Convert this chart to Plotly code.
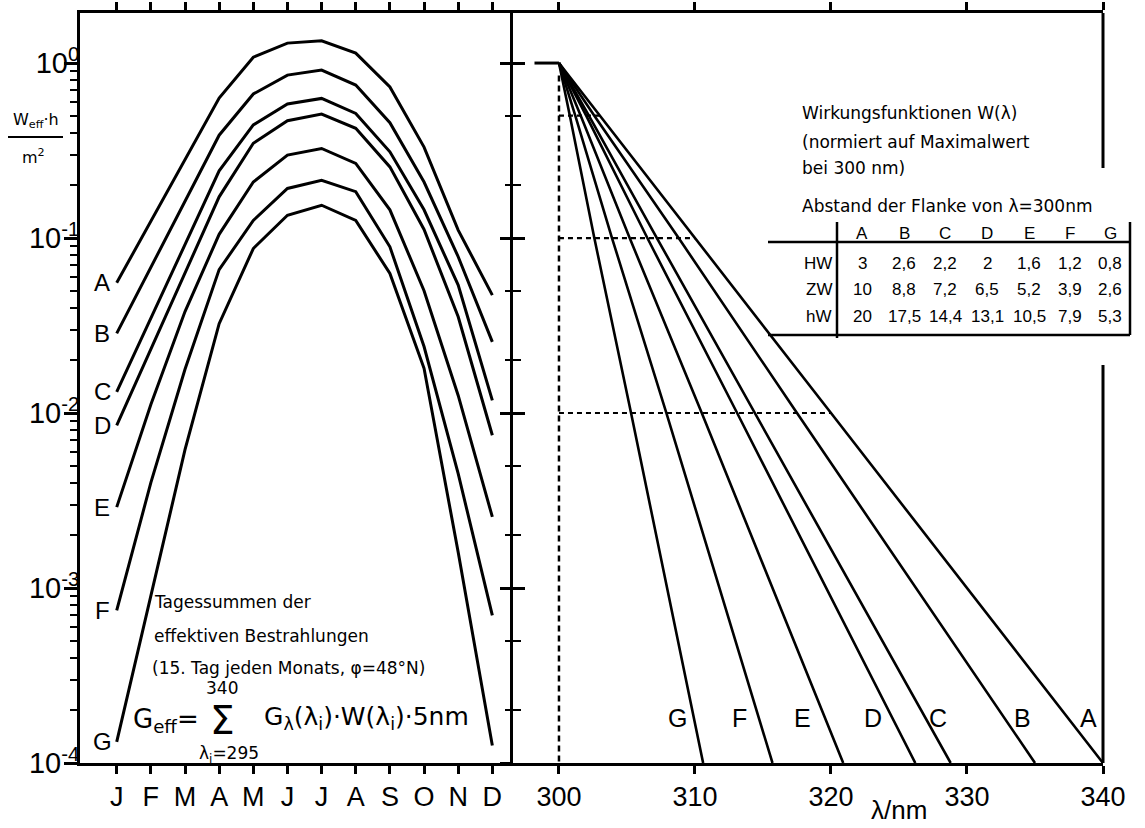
import math
import plotly.graph_objects as go

# ---------------- data ----------------
months = ["J", "F", "M", "A", "M", "J", "J", "A", "S", "O", "N", "D"]
month_pos = list(range(12))

curve_names = ["A", "B", "C", "D", "E", "F", "G"]

# daily effective irradiation (W_eff*h/m^2), 15th day of each month, 48°N
geff_A = [0.0555, 0.125, 0.281, 0.631, 1.08, 1.30, 1.34, 1.14, 0.73, 0.331, 0.111, 0.0472]
geff_B = [0.0285, 0.068, 0.162, 0.387, 0.665, 0.853, 0.912, 0.748, 0.456, 0.209, 0.0782, 0.0255]
geff_C = [0.0132, 0.0348, 0.0918, 0.242, 0.443, 0.583, 0.628, 0.515, 0.311, 0.145, 0.0538, 0.0118]
geff_D = [0.0085, 0.0232, 0.0632, 0.172, 0.348, 0.468, 0.511, 0.424, 0.255, 0.112, 0.0355, 0.00746]
geff_E = [0.0029, 0.0112, 0.038, 0.105, 0.209, 0.298, 0.325, 0.267, 0.145, 0.05, 0.0126, 0.00255]
geff_F = [0.000745, 0.004, 0.0178, 0.066, 0.126, 0.192, 0.214, 0.184, 0.0891, 0.024, 0.0045, 0.000698]
geff_G = [0.000132, 0.00091, 0.00617, 0.0324, 0.0871, 0.135, 0.154, 0.126, 0.0628, 0.018, 0.0016, 0.000126]
geff_curves = [geff_A, geff_B, geff_C, geff_D, geff_E, geff_F, geff_G]

# action spectra: distance of the flank from 300 nm (nm)
dist_HW = [3, 2.6, 2.2, 2, 1.6, 1.2, 0.8]          # half value
dist_ZW = [10, 8.8, 7.2, 6.5, 5.2, 3.9, 2.6]       # tenth value
dist_hW = [20, 17.5, 14.4, 13.1, 10.5, 7.9, 5.3]   # hundredth value
lam_end = [340, 335, 328.8, 326.2, 320.9, 315.7, 310.6]  # wavelength where W = 1e-4
w_levels = [1, 0.5, 0.1, 0.01, 1e-4]
plateau_start = 298.2
lam_ref = 300

wl_ticks = [300, 310, 320, 330, 340]
decades = [1e-4, 1e-3, 1e-2, 1e-1, 1]
decade_text = ["10<sup>-4</sup>", "10<sup>-3</sup>", "10<sup>-2</sup>", "10<sup>-1</sup>", "10<sup>0</sup>"]

# ---------------- geometry ----------------
W, H = 1145, 828
ML, MR, MT, MB = 80, 42, 13, 65
PW, PH = W - ML - MR, H - MT - MB
SPLIT_PX = 513
XSPLIT = (SPLIT_PX - ML) / PW
YRANGE = [-4, 0.286]


def paper(x, y):
    return (x - ML) / PW, (H - MB - y) / PH


TXT = "DejaVu Sans"
NUM = "Liberation Sans"
INK = "black"

fig = go.Figure()

# ---------------- left panel: annual curves ----------------
for name, vals in zip(curve_names, geff_curves):
    fig.add_trace(go.Scatter(x=month_pos, y=vals, mode="lines", xaxis="x", yaxis="y",
                             line=dict(color=INK, width=3), hoverinfo="skip"))
    fig.add_annotation(x=-0.43, y=math.log10(vals[0]), xref="x", yref="y", text=name,
                       showarrow=False, font=dict(family=NUM, size=24, color=INK),
                       xanchor="center", yanchor="middle")

# ---------------- right panel: action spectra ----------------
fig.add_trace(go.Scatter(x=[plateau_start, lam_ref], y=[1, 1], mode="lines", xaxis="x2", yaxis="y2",
                         line=dict(color=INK, width=3), hoverinfo="skip"))
for i, name in enumerate(curve_names):
    xs = [lam_ref, lam_ref + dist_HW[i], lam_ref + dist_ZW[i], lam_ref + dist_hW[i], lam_end[i]]
    fig.add_trace(go.Scatter(x=xs, y=w_levels, mode="lines", xaxis="x2", yaxis="y2",
                             line=dict(color=INK, width=2.6), hoverinfo="skip"))

# dashed guides for spectrum A
guide = dict(color=INK, width=2.5, dash="6px,4px")
fig.add_trace(go.Scatter(x=[lam_ref, lam_ref], y=[0.85, 1e-4], mode="lines", xaxis="x2", yaxis="y3",
                         line=guide, hoverinfo="skip"))
for d, lev in zip([dist_HW[0], dist_ZW[0], dist_hW[0]], w_levels[1:4]):
    fig.add_trace(go.Scatter(x=[lam_ref, lam_ref + d], y=[lev, lev], mode="lines", xaxis="x2", yaxis="y3",
                             line=dict(color=INK, width=2.2, dash="5px,4px"), hoverinfo="skip"))

label_x = [338.9, 334.1, 327.9, 323.1, 317.9, 313.3, 308.75]
for name, lx in zip(curve_names, label_x):
    fig.add_annotation(x=lx, y=-3.74, xref="x2", yref="y2", text=name, showarrow=False,
                       font=dict(family=NUM, size=25, color=INK), xanchor="center", yanchor="middle")

# ---------------- axes ----------------
minor_left = [m * 10 ** e for e in range(-4, 0) for m in range(2, 10)]
minor_right = [m * 10 ** e for e in range(-4, 0) for m in (2, 5)]

common_x = dict(showline=True, linewidth=3, linecolor=INK, mirror="ticks", ticks="outside",
                ticklen=8, tickwidth=2.5, tickcolor=INK, showgrid=False, zeroline=False,
                automargin=False, tickfont=dict(family=NUM, size=27, color=INK))

fig.update_layout(
    width=W, height=H, margin=dict(l=ML, r=MR, t=MT, b=MB, autoexpand=False),
    paper_bgcolor="white", plot_bgcolor="white", showlegend=False,
    xaxis=dict(domain=[0, XSPLIT], range=[-1.075, 11.605], anchor="y",
               tickmode="array", tickvals=month_pos, ticktext=months, **common_x),
    yaxis=dict(domain=[0, 1], type="log", range=YRANGE, anchor="x", automargin=False,
               tickmode="array", tickvals=decades, ticktext=decade_text,
               ticks="outside", ticklen=13, tickwidth=2.5, tickcolor=INK,
               showline=True, linewidth=3, linecolor=INK, mirror=False,
               showgrid=False, zeroline=False, ticklabelstandoff=-21,
               tickfont=dict(family=NUM, size=29, color=INK),
               minor=dict(tickmode="array", tickvals=minor_left, ticks="outside",
                          ticklen=7, tickwidth=2, tickcolor=INK, showgrid=False)),
    xaxis2=dict(domain=[XSPLIT, 1], range=[296.62, 340], anchor="y2",
                tickmode="array", tickvals=wl_ticks, **common_x),
    yaxis2=dict(domain=[0, 1], type="log", range=YRANGE, anchor="x2", automargin=False,
                tickmode="array", tickvals=decades, showticklabels=False,
                ticks="inside", ticklen=12, tickwidth=2.5, tickcolor=INK,
                showline=True, linewidth=3, linecolor=INK, mirror=False,
                showgrid=False, zeroline=False,
                minor=dict(tickmode="array", tickvals=minor_right, ticks="inside",
                           ticklen=8, tickwidth=2, tickcolor=INK, showgrid=False)),
    yaxis3=dict(type="log", range=YRANGE, anchor="x2", overlaying="y2", side="left",
                automargin=False, tickmode="array", tickvals=decades, showticklabels=False,
                ticks="outside", ticklen=12, tickwidth=2.5, tickcolor=INK,
                showline=False, showgrid=False, zeroline=False,
                minor=dict(tickmode="array", tickvals=minor_right, ticks="outside",
                           ticklen=7, tickwidth=2, tickcolor=INK, showgrid=False)),
)

# ---------------- frame pieces and text ----------------
shapes = []
# right border, interrupted by the table
for y0, y1 in [(13, 168), (365, 763)]:
    (xa, ya0), (_, ya1) = paper(1103, y0), paper(1103, y1)
    shapes.append(dict(type="line", xref="paper", yref="paper", x0=xa, x1=xa, y0=ya0, y1=ya1,
                       line=dict(color=INK, width=3)))


def hline(x0, x1, y, w=2.5):
    a, yy = paper(x0, y)
    b, _ = paper(x1, y)
    shapes.append(dict(type="line", xref="paper", yref="paper", x0=a, x1=b, y0=yy, y1=yy,
                       line=dict(color=INK, width=w)))


def vline(x, y0, y1, w=2.5):
    xx, a = paper(x, y0)
    _, b = paper(x, y1)
    shapes.append(dict(type="line", xref="paper", yref="paper", x0=xx, x1=xx, y0=a, y1=b,
                       line=dict(color=INK, width=w)))


# fraction bar of the y unit
hline(8, 63, 137, 2)

# table lines
hline(768, 1130, 242)
hline(768, 1130, 335)
vline(837, 222, 338)
vline(1130, 222, 335)
fig.update_layout(shapes=shapes)


def text(x, y, s, size, family=TXT, anchor="left", yanchor="middle"):
    px, py = paper(x, y)
    fig.add_annotation(x=px, y=py, xref="paper", yref="paper", text=s, showarrow=False,
                       xanchor=anchor, yanchor=yanchor, font=dict(family=family, size=size, color=INK))


# y unit
text(36, 120, "W<sub>eff</sub>·h", 16, anchor="center")
text(33, 156, "m<sup>2</sup>", 16, anchor="center")

# left panel description
text(152, 602, "Tagessummen der", 17)
text(152, 636, "effektiven Bestrahlungen", 17)
text(150, 668, "(15. Tag jeden Monats, φ=48°N)", 17)

# summation formula
text(131, 720, "G<sub>eff</sub>=", 26)
text(222, 720, "Σ", 39, anchor="center")
text(222, 688, "340", 17, anchor="center")
text(229, 754, "λ<sub>i</sub>=295", 17, anchor="center")
text(262, 718, "G<sub>λ</sub>(λ<sub>i</sub>)·W(λ<sub>i</sub>)·5nm", 25)

# right panel description
text(800, 113, "Wirkungsfunktionen W(λ)", 17)
text(800, 142, "(normiert auf Maximalwert", 17)
text(800, 168, "bei 300 nm)", 17)
text(800, 206, "Abstand der Flanke von λ=300nm", 17)

# table
col_x = [862, 904, 945, 987, 1029, 1070, 1110]
for cx, name in zip(col_x, curve_names):
    text(cx, 233, name, 17, family=NUM, anchor="center")


def fmt(v):
    return f"{v:g}".replace(".", ",")


for ry, rlabel, row in [(263, "HW", dist_HW), (290, "ZW", dist_ZW), (316, "hW", dist_hW)]:
    text(834, ry, rlabel, 17, family=NUM, anchor="right")
    for cx, v in zip(col_x, row):
        text(cx, ry, fmt(v), 17, family=NUM, anchor="center")

# wavelength axis title
text(899, 810, "λ/nm", 26, family=NUM, anchor="center")

fig.write_html("out.html")
